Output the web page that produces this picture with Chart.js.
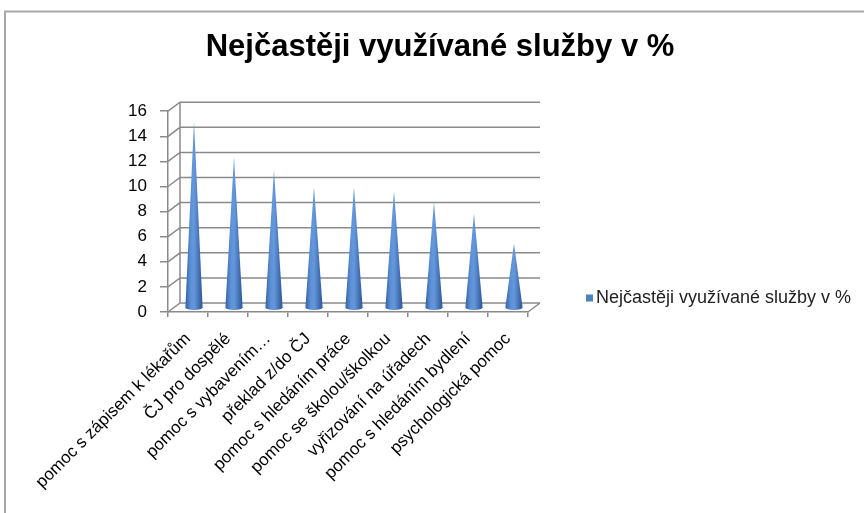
<!DOCTYPE html>
<html lang="cs">
<head>
    <meta charset="UTF-8">
    <title>Nejčastěji využívané služby v %</title>
    <script src="https://cdn.jsdelivr.net/npm/chart.js"></script>
    <style>
        html, body { margin: 0; padding: 0; background: #fff; }
        canvas { display: block; }
    </style>
</head>
<body>
    <canvas id="chart" width="864" height="513"></canvas>

    <script>
        // data
        const chartTitle = "Nejčastěji využívané služby v %";
        const seriesName = "Nejčastěji využívané služby v %";
        const categories = [
            "pomoc s zápisem k lékařům",
            "ČJ pro dospělé",
            "pomoc s vybavením…",
            "překlad z/do ČJ",
            "pomoc s hledáním práce",
            "pomoc se školou/školkou",
            "vyřizování na úřadech",
            "pomoc s hledáním bydlení",
            "psychologická pomoc"
        ];
        const values = [14.8, 12, 11, 9.6, 9.6, 9.3, 8.4, 7.5, 5.1];
        const yMin = 0, yMax = 16, yStep = 2;

        // fake 3D depth of the back wall
        const DX = 12, DY = 9;
        const lineGray = "#8a8a8a";
        const coneBlue = "#4f81bd";

        const cone3d = {
            id: "cone3d",
            beforeDraw(chart) {
                // frame round the picture
                const ctx = chart.ctx;
                ctx.save();
                ctx.strokeStyle = "#a8a8a8";
                ctx.lineWidth = 2;
                ctx.beginPath();
                ctx.moveTo(5, chart.height);
                ctx.lineTo(5, 11.5);
                ctx.lineTo(chart.width, 11.5);
                ctx.stroke();
                ctx.restore();
            },
            beforeDatasetsDraw(chart) {
                const ctx = chart.ctx;
                const y = chart.scales.y;
                const a = chart.chartArea;
                ctx.save();
                ctx.strokeStyle = lineGray;
                ctx.lineWidth = 1.5;
                ctx.beginPath();
                y.ticks.forEach(t => {
                    const py = y.getPixelForValue(t.value);
                    ctx.moveTo(a.left, py);
                    ctx.lineTo(a.left + DX, py - DY);
                    ctx.lineTo(a.right + DX, py - DY);
                });
                const p0 = y.getPixelForValue(yMin);
                const pTop = y.getPixelForValue(yMax);
                ctx.moveTo(a.left + DX, p0 - DY);
                ctx.lineTo(a.left + DX, pTop - DY);
                ctx.moveTo(a.right, p0);
                ctx.lineTo(a.right + DX, p0 - DY);
                ctx.stroke();
                ctx.restore();
            },
            beforeDatasetDraw() {
                return false; // bars are drawn as cones below
            },
            afterDatasetsDraw(chart) {
                const ctx = chart.ctx;
                const y = chart.scales.y;
                const baseY = y.getPixelForValue(0) - DY / 2;
                const meta = chart.getDatasetMeta(0);
                ctx.save();
                meta.data.forEach(bar => {
                    const cx = bar.x + DX / 2;
                    const tipY = bar.y - DY / 2;
                    const r = bar.width / 2;
                    const g = ctx.createLinearGradient(cx - r, 0, cx + r, 0);
                    g.addColorStop(0, "#31609f");
                    g.addColorStop(0.3, "#5c90d6");
                    g.addColorStop(0.5, "#6598dd");
                    g.addColorStop(1, "#2b5793");
                    ctx.fillStyle = g;
                    ctx.beginPath();
                    ctx.moveTo(cx - r, baseY);
                    ctx.lineTo(cx, tipY);
                    ctx.lineTo(cx + r, baseY);
                    ctx.ellipse(cx, baseY, r, 2.5, 0, 0, Math.PI);
                    ctx.closePath();
                    ctx.fill();
                });
                ctx.restore();
            },
            afterDraw(chart) {
                // legend on the right, in the free space kept by the y2 axis
                const ctx = chart.ctx;
                const x = chart.chartArea.right + 58;
                const y = 298;
                ctx.save();
                ctx.fillStyle = coneBlue;
                ctx.fillRect(x, y - 3.5, 7, 7);
                ctx.fillStyle = "#222";
                ctx.font = "18px 'Liberation Sans', Arial, sans-serif";
                ctx.textBaseline = "middle";
                ctx.fillText(seriesName, x + 10, y);
                ctx.restore();
            }
        };

        Chart.defaults.font.family = "'Liberation Sans', Arial, sans-serif";
        Chart.defaults.color = "#000";

        new Chart(document.getElementById("chart"), {
            type: "bar",
            data: {
                labels: categories,
                datasets: [{
                    label: seriesName,
                    data: values,
                    backgroundColor: coneBlue,
                    categoryPercentage: 1,
                    barPercentage: 0.43
                }]
            },
            options: {
                responsive: false,
                animation: false,
                layout: { padding: { left: 16, right: 0, top: 0, bottom: 0 } },
                plugins: {
                    title: {
                        display: true,
                        text: chartTitle,
                        color: "#000",
                        font: { size: 31, weight: "bold" },
                        padding: { top: 29, bottom: 45 }
                    },
                    legend: { display: false },
                    tooltip: { enabled: false }
                },
                scales: {
                    x: {
                        grid: {
                            drawOnChartArea: false,
                            tickLength: 5,
                            color: lineGray,
                            lineWidth: 1.5
                        },
                        border: { color: lineGray, width: 1.5 },
                        ticks: {
                            autoSkip: false,
                            minRotation: 45,
                            maxRotation: 45,
                            padding: 12,
                            font: { size: 17 }
                        },
                        afterFit(s) { s.height = 201; }
                    },
                    y: {
                        min: yMin,
                        max: yMax,
                        grid: {
                            drawOnChartArea: false,
                            tickLength: 8,
                            color: lineGray,
                            lineWidth: 1.5
                        },
                        border: { color: lineGray, width: 1.5 },
                        ticks: {
                            stepSize: yStep,
                            padding: 13,
                            font: { size: 17 }
                        },
                        afterFit(s) { s.width = 152; }
                    },
                    y2: {
                        position: "right",
                        grid: { display: false },
                        border: { display: false },
                        ticks: { display: false },
                        afterFit(s) { s.width = 336; }
                    }
                }
            },
            plugins: [cone3d]
        });
    </script>
</body>
</html>
